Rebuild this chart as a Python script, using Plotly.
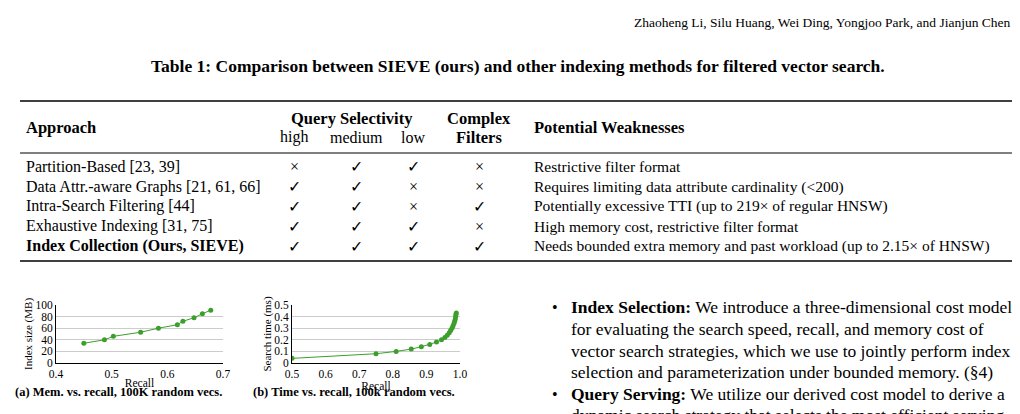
import plotly.graph_objects as go

W, H = 1020, 414
# Data
mem_recall = [0.45, 0.487, 0.503, 0.552, 0.584, 0.618, 0.628, 0.648, 0.663, 0.678]
mem_size = [34, 40, 46, 53, 60, 66, 72, 78, 85, 91]
time_recall = [0.5, 0.75, 0.81, 0.855, 0.885, 0.91, 0.93, 0.945, 0.955, 0.962, 0.968,
               0.972, 0.976, 0.979, 0.982, 0.984, 0.986, 0.987, 0.988, 0.989]
time_ms = [0.04, 0.08, 0.10, 0.12, 0.14, 0.16, 0.18, 0.20, 0.22, 0.24, 0.26,
           0.28, 0.30, 0.32, 0.34, 0.36, 0.38, 0.40, 0.42, 0.43]
approaches = ["Partition-Based [23, 39]", "Data Attr.-aware Graphs [21, 61, 66]",
              "Intra-Search Filtering [44]", "Exhaustive Indexing [31, 75]",
              "<b>Index Collection (Ours, SIEVE)</b>"]
high = [0, 1, 1, 1, 1]
medium = [1, 1, 1, 1, 1]
low = [1, 0, 0, 1, 1]
complex_f = [0, 0, 1, 0, 1]
weak = ["Restrictive filter format",
        "Requires limiting data attribute cardinality (<200)",
        "Potentially excessive TTI (up to 219× of regular HNSW)",
        "High memory cost, restrictive filter format",
        "Needs bounded extra memory and past workload (up to 2.15× of HNSW)"]
right_lines = ["<b>Index Selection:</b> We introduce a three-dimensional cost model",
               "for evaluating the search speed, recall, and memory cost of",
               "vector search strategies, which we use to jointly perform index",
               "selection and parameterization under bounded memory. (§4)",
               "<b>Query Serving:</b> We utilize our derived cost model to derive a",
               "dynamic search strategy that selects the most efficient serving"]

F = "Liberation Serif"
G = "#3c9f2c"
px = lambda x: x / W
py = lambda y: 1 - y / H

fig = go.Figure()
fig.add_trace(go.Scatter(x=mem_recall, y=mem_size, mode="lines+markers",
                         line=dict(color=G, width=1), marker=dict(color=G, size=5),
                         xaxis="x", yaxis="y"))
fig.add_trace(go.Scatter(x=time_recall, y=time_ms, mode="lines+markers",
                         line=dict(color=G, width=1), marker=dict(color=G, size=5),
                         xaxis="x2", yaxis="y2"))

ax = dict(showline=True, linecolor="black", linewidth=1, ticks="", mirror=False,
          tickfont=dict(family=F, size=11.5, color="black"), zeroline=False, automargin=False)
fig.update_layout(
    width=W, height=H, margin=dict(l=0, r=0, t=0, b=0), showlegend=False,
    paper_bgcolor="white", plot_bgcolor="white", font=dict(family=F, color="black"),
    xaxis=dict(domain=[px(48), px(215)], range=[0.4, 0.7], dtick=0.1, showgrid=False,
               title=dict(text="Recall", font=dict(size=11.5), standoff=0), **ax),
    yaxis=dict(domain=[py(355), py(297)], range=[0, 100], dtick=20, showgrid=True,
               gridcolor="#cccccc", anchor="x",
               title=dict(text="Index size (MB)", font=dict(size=11), standoff=0), **ax),
    xaxis2=dict(domain=[px(284), px(452)], range=[0.5, 1.0], dtick=0.1, showgrid=False,
                tickformat=".1f", anchor="y2",
                title=dict(text="Recall", font=dict(size=11.5), standoff=0), **ax),
    yaxis2=dict(domain=[py(355), py(297)], range=[0, 0.5], dtick=0.1, showgrid=True,
                gridcolor="#cccccc", anchor="x2",
                tickvals=[0, 0.1, 0.2, 0.3, 0.4, 0.5],
                ticktext=["0", "0.1", "0.2", "0.3", "0.4", "0.5"],
                title=dict(text="Search time (ms)", font=dict(size=11), standoff=0), **ax),
)

ann = []
def T(x, y, text, size=13, xa="left", ya="middle"):
    ann.append(dict(x=px(x), y=py(y), xref="paper", yref="paper", text=text, showarrow=False,
                    xanchor=xa, yanchor=ya, font=dict(family=F, size=size, color="black")))

T(1005, 14, "Zhaoheng Li, Silu Huang, Wei Ding, Yongjoo Park, and Jianjun Chen", 13.5, "right")
T(510, 58, "<b>Table 1: Comparison between SIEVE (ours) and other indexing methods for filtered vector search.</b>", 17.5, "center")
T(16, 120, "<b>Approach</b>", 16.5)
T(344, 110, "<b>Query Selectivity</b>", 16.5, "center")
T(286, 129, "high", 16, "center"); T(348, 129, "medium", 16, "center"); T(405, 129, "low", 16, "center")
T(471, 110, "<b>Complex</b>", 16.5, "center"); T(471, 129, "<b>Filters</b>", 16.5, "center")
T(524, 120, "<b>Potential Weaknesses</b>", 16.5)
rows_y = [159, 179, 198, 218, 238]
sym = lambda v: "✓" if v else "×"
for i, yy in enumerate(rows_y):
    T(16, yy, approaches[i], 16)
    T(286, yy, sym(high[i]), 16, "center")
    T(348, yy, sym(medium[i]), 16, "center")
    T(405, yy, sym(low[i]), 16, "center")
    T(471, yy, sym(complex_f[i]), 16, "center")
    T(524, yy, weak[i], 15.5)
T(5, 384, "<b>(a) Mem. vs. recall, 100K random vecs.</b>", 12.5)
T(243, 384, "<b>(b) Time vs. recall, 100k random vecs.</b>", 12.5)
for i, (yy, line) in enumerate(zip([299, 321, 343, 364, 386, 407], right_lines)):
    if i in (0, 4):
        T(547, yy, "•", 16, "center")
    T(561, yy, line, 17.5)
fig.update_layout(annotations=ann)

shapes = []
for y, w in [(93, 1.5), (145, 1), (253, 1.5)]:
    shapes.append(dict(type="line", xref="paper", yref="paper", x0=px(12), x1=px(1006),
                       y0=py(y), y1=py(y), line=dict(color="black", width=w)))
fig.update_layout(shapes=shapes)
fig.write_html("out.html")
